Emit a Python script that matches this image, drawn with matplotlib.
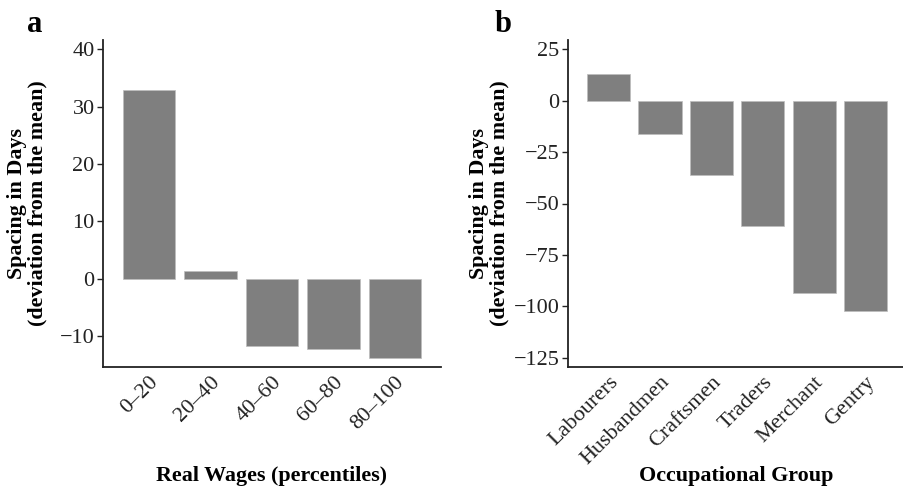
import matplotlib
matplotlib.use("Agg")
import matplotlib.pyplot as plt
import numpy as np

plt.rcParams['font.family'] = ['Liberation Serif', 'DejaVu Serif']

wage_groups = ["0\u201320", "20\u201340", "40\u201360", "60\u201380", "80\u2013100"]
wage_values = [32.9, 1.4, -11.7, -12.2, -13.8]

occ_groups = ["Labourers", "Husbandmen", "Craftsmen", "Traders", "Merchant", "Gentry"]
occ_values = [13.1, -16.0, -36.3, -61.0, -93.7, -102.4]

a_yticks = [-10, 0, 10, 20, 30, 40]
b_yticks = [-125, -100, -75, -50, -25, 0, 25]

W, H = 904, 488
fig = plt.figure(figsize=(W / 100, H / 100), dpi=100)

bar_color = "#7f7f7f"
tick_fs = 16
lab_fs = 15.8


def style(ax):
    for s in ["top", "right"]:
        ax.spines[s].set_visible(False)
    for s in ["left", "bottom"]:
        ax.spines[s].set_linewidth(1.3)
        ax.spines[s].set_color("#222222")
    ax.tick_params(axis="y", length=4, width=1.0, color="#222222",
                   labelsize=tick_fs, pad=2, labelcolor="#222222")
    ax.tick_params(axis="x", length=0, labelsize=tick_fs, pad=4,
                   labelcolor="#222222")


# Panel a
axa = fig.add_axes([103 / W, 1 - 367 / H, (441 - 103) / W, (367 - 40) / H])
xa = np.arange(len(wage_groups))
axa.bar(xa, wage_values, width=0.85, color=bar_color, edgecolor="#bdbdbd", linewidth=0.5)
axa.set_xlim(-0.75, len(wage_groups) - 0.25)
axa.set_ylim(-15.4, 41.6)
axa.set_yticks(a_yticks)
axa.set_yticklabels([str(v).replace("-", "\u2212") for v in a_yticks])
axa.set_xticks(xa)
axa.set_xticklabels(wage_groups, rotation=45, ha="right", va="top",
                    rotation_mode="anchor")
style(axa)
axa.set_xlabel("Real Wages (percentiles)", fontsize=lab_fs, fontweight="bold")
axa.xaxis.set_label_coords(0.5, (367 - 476) / (367 - 40), transform=axa.transAxes)
axa.xaxis.label.set_va("center")
axa.set_ylabel("Spacing in Days\n(deviation from the mean)", fontsize=lab_fs,
               fontweight="bold", linespacing=1.05)
axa.yaxis.set_label_coords((27 - 103) / (441 - 103), 0.5)
axa.yaxis.label.set_va("center")

# Panel b
axb = fig.add_axes([568 / W, 1 - 367 / H, (904 - 568) / W, (367 - 40) / H])
xb = np.arange(len(occ_groups))
axb.bar(xb, occ_values, width=0.84, color=bar_color, edgecolor="#bdbdbd", linewidth=0.5)
axb.set_xlim(-0.79, len(occ_groups) - 0.25)
axb.set_ylim(-129.5, 29.5)
axb.set_yticks(b_yticks)
axb.set_yticklabels([str(v).replace("-", "\u2212") for v in b_yticks])
axb.set_xticks(xb)
axb.set_xticklabels(occ_groups, rotation=45, ha="right", va="top",
                    rotation_mode="anchor")
style(axb)
axb.set_xlabel("Occupational Group", fontsize=lab_fs, fontweight="bold")
axb.xaxis.set_label_coords(0.5, (367 - 476) / (367 - 40), transform=axb.transAxes)
axb.xaxis.label.set_va("center")
axb.set_ylabel("Spacing in Days\n(deviation from the mean)", fontsize=lab_fs,
               fontweight="bold", linespacing=1.05)
axb.yaxis.set_label_coords((489 - 568) / (904 - 568), 0.5)
axb.yaxis.label.set_va("center")

fig.text(35 / W, 1 - 32 / H, "a", fontsize=22, fontweight="bold", ha="center",
         va="baseline")
fig.text(503 / W, 1 - 32 / H, "b", fontsize=22, fontweight="bold", ha="center",
         va="baseline")

fig.savefig("out.png", dpi=100)
